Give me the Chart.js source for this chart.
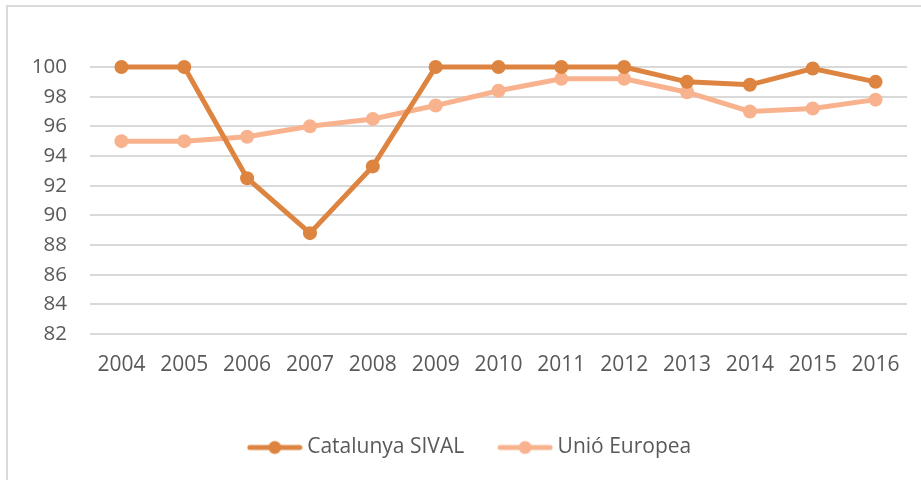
<!DOCTYPE html>
<html>
<head>
<meta charset="utf-8">
<script src="https://cdn.jsdelivr.net/npm/chart.js@4"></script>
<style>
  html, body { margin: 0; padding: 0; background: #fff; }
  #wrap { position: relative; width: 921px; height: 480px; overflow: hidden; }
  #frame { position: absolute; left: 6px; top: 5px; width: 1000px; height: 1000px; border: 2px solid #d9d9d9; box-sizing: border-box; }
  canvas { position: absolute; left: 0; top: 0; }
</style>
</head>
<body>
<div id="wrap">
  <div id="frame"></div>
  <canvas id="myChart" width="921" height="480"></canvas>
</div>
<script>
const years = ['2004', '2005', '2006', '2007', '2008', '2009', '2010', '2011', '2012', '2013', '2014', '2015', '2016'];
const catalunya = [100, 100, 92.5, 88.8, 93.3, 100, 100, 100, 100, 99.0, 98.8, 99.9, 99.0];
const unioEuropea = [95.0, 95.0, 95.3, 96.0, 96.5, 97.4, 98.4, 99.2, 99.2, 98.3, 97.0, 97.2, 97.8];
const seriesNames = ['Catalunya SIVAL', 'Unió Europea'];
const seriesColors = ['#dd8440', '#f8b38e'];

const FONT = "'Open Sans', sans-serif";
const TEXT = '#595959';

// petit dibuix de línia + punt per a la llegenda
function legendMark(color) {
    const c = document.createElement('canvas');
    c.width = 56; c.height = 16;
    const g = c.getContext('2d');
    g.strokeStyle = color;
    g.lineWidth = 5;
    g.lineCap = 'round';
    g.beginPath(); g.moveTo(3, 8); g.lineTo(53, 8); g.stroke();
    g.fillStyle = color;
    g.beginPath(); g.arc(28, 8, 6.5, 0, Math.PI * 2); g.fill();
    return c;
}
const marks = seriesColors.map(legendMark);

function makeDataset(i, values) {
    return {
        label: seriesNames[i],
        data: values,
        borderColor: seriesColors[i],
        backgroundColor: seriesColors[i],
        borderWidth: 5,
        pointRadius: 7,
        pointHoverRadius: 7,
        pointBorderWidth: 0,
        tension: 0,
        clip: false
    };
}

const ctx = document.getElementById('myChart').getContext('2d');
new Chart(ctx, {
    type: 'line',
    data: {
        labels: years,
        datasets: [makeDataset(0, catalunya), makeDataset(1, unioEuropea)]
    },
    options: {
        responsive: false,
        animation: false,
        layout: { padding: { top: 67, left: 24, right: 1, bottom: 12 } },
        scales: {
            x: {
                offset: true,
                grid: { display: false },
                border: { display: false },
                ticks: { color: TEXT, font: { family: FONT, size: 21 }, padding: 10, maxRotation: 0 },
                afterFit: (s) => { s.height = 64; }
            },
            y: {
                min: 82,
                max: 100,
                grid: { color: '#d9d9d9', lineWidth: 2, drawTicks: false },
                border: { display: false },
                ticks: { stepSize: 2, color: TEXT, font: { family: FONT, size: 20.5 }, padding: 23 },
                afterFit: (s) => { s.width = 66; }
            },
            // eix buit a la dreta, només per deixar el marge
            yRight: {
                position: 'right',
                display: true,
                grid: { display: false },
                border: { display: false },
                ticks: { display: false },
                afterFit: (s) => { s.width = 13; }
            }
        },
        plugins: {
            tooltip: { enabled: false },
            legend: {
                position: 'bottom',
                labels: {
                    usePointStyle: true,
                    pointStyleWidth: 44,
                    padding: 39,
                    color: TEXT,
                    font: { family: FONT, size: 21 },
                    generateLabels: (chart) => chart.data.datasets.map((d, i) => ({
                        text: d.label,
                        pointStyle: marks[i],
                        fillStyle: d.borderColor,
                        strokeStyle: d.borderColor,
                        lineWidth: 0,
                        fontColor: TEXT,
                        hidden: false,
                        datasetIndex: i
                    }))
                }
            }
        }
    }
});
</script>
</body>
</html>
